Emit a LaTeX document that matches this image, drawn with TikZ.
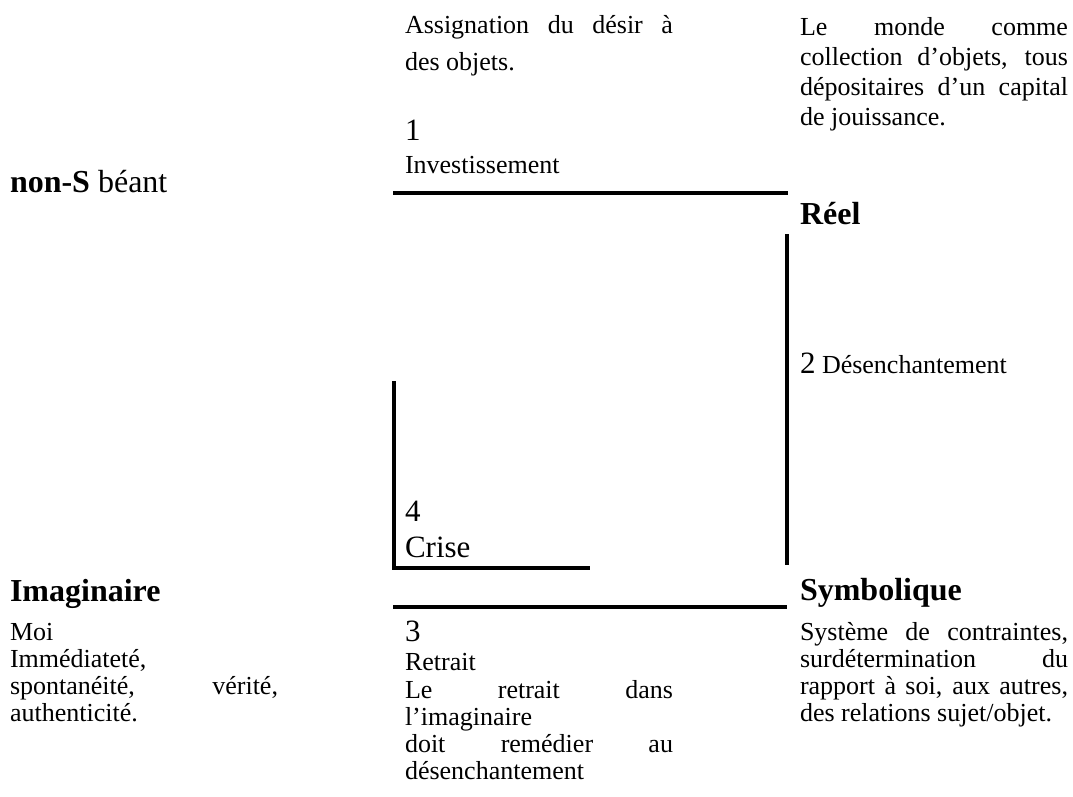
\documentclass[tikz,border=0pt]{standalone}
\usepackage{fontspec}
\setmainfont{Liberation Serif}
\newlength\colw
\setlength\colw{268pt}
\begin{document}
\begin{tikzpicture}[x=1pt,y=-1pt,
  txt/.style={anchor=base west, inner sep=0pt, outer sep=0pt, font=\fontsize{26}{30}\selectfont},
  num/.style={txt, font=\fontsize{31}{36}\selectfont},
  head/.style={txt, font=\fontsize{32}{38}\selectfont\bfseries},
  bar/.style={line width=4pt, line cap=butt, line join=miter}]
\useasboundingbox (0,0) rectangle (1073,796);
% top middle
\node[txt] (a1) at (405,33) {\makebox[\colw][s]{Assignation du désir à}};
\node[txt] (a2) at (405,70) {des objets.};
\node[num] (n1) at (405,140) {1};
\node[txt] (inv) at (405,173) {Investissement};
% top right
\node[txt] (m1) at (800,35) {\makebox[\colw][s]{Le monde comme}};
\node[txt] (m2) at (800,65) {\makebox[\colw][s]{collection d’objets, tous}};
\node[txt] (m3) at (800,95) {\makebox[\colw][s]{dépositaires d’un capital}};
\node[txt] (m4) at (800,125) {de jouissance.};
% left top
\node[txt, font=\fontsize{32}{38}\selectfont] (nons) at (10,192) {\textbf{non-S} béant};
% Reel
\node[head] (reel) at (800,224) {Réel};
\node[txt] (des) at (800,373) {{\fontsize{31}{36}\selectfont 2} Désenchantement};
% crise
\node[num] (n4) at (405,521) {4};
\node[num] (crise) at (405,557) {Crise};
% headings
\node[head] (imag) at (10,601) {Imaginaire};
\node[head] (symb) at (800,600) {Symbolique};
% left bottom
\node[txt] (i1) at (10,640) {Moi};
\node[txt] (i2) at (10,667) {Immédiateté,};
\node[txt] (i3) at (10,694) {\makebox[\colw][s]{spontanéité, vérité,}};
\node[txt] (i4) at (10,721) {authenticité.};
% middle bottom
\node[num] (n3) at (405,641) {3};
\node[txt] (r1) at (405,670) {Retrait};
\node[txt] (r2) at (405,698) {\makebox[\colw][s]{Le retrait dans}};
\node[txt] (r3) at (405,725) {l’imaginaire};
\node[txt] (r4) at (405,752) {\makebox[\colw][s]{doit remédier au}};
\node[txt] (r5) at (405,779) {désenchantement};
% right bottom
\node[txt] (s1) at (800,640) {\makebox[\colw][s]{Système de contraintes,}};
\node[txt] (s2) at (800,667) {\makebox[\colw][s]{surdétermination du}};
\node[txt] (s3) at (800,694) {\makebox[\colw][s]{rapport à soi, aux autres,}};
\node[txt] (s4) at (800,721) {des relations sujet/objet.};
% bars
\draw[bar] (393,193) -- (788,193);
\draw[bar] (787,234) -- (787,565);
\draw[bar] (394,381) -- (394,568) -- (590,568);
\draw[bar] (393,607) -- (787,607);
\end{tikzpicture}
\end{document}
